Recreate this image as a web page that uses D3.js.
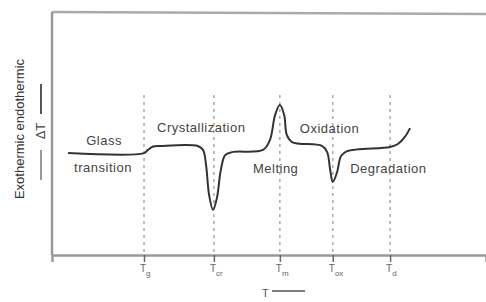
<!DOCTYPE html>
<html>
<head>
<meta charset="utf-8">
<script src="https://cdn.jsdelivr.net/npm/d3@7"></script>
<style>
  body { margin: 0; background: #fff; }
  svg { font-family: "Liberation Sans", Arial, sans-serif; }
</style>
</head>
<body>
<svg id="chart" width="486" height="302"></svg>
<script>
// DSC thermogram (arbitrary units)
var temps = [3.7, 21.2, 22.1, 23.3, 24.9, 33.6, 34.8, 35.5, 36.2, 37.1, 38.0, 38.9, 39.9, 41.5,
             48.6, 50.2, 51.4, 52.5, 53.5, 54.1, 55.3, 62.2, 63.4, 64.1, 64.7, 65.7, 66.6, 68.0,
             77.9, 79.7, 81.3, 82.5];
var heatFlow = [41.6, 41.6, 42.9, 44.3, 44.5, 44.5, 42.9, 36.7, 24.5, 18.4, 23.3, 34.7, 40.8, 42.0,
                42.9, 46.9, 57.1, 61.2, 57.1, 49.0, 46.1, 44.5, 42.0, 34.7, 29.8, 33.9, 40.4, 42.4,
                44.1, 45.3, 48.2, 51.8];

var markTemps = [21.2, 37.3, 52.5, 64.7, 77.9];
var markSubs = ["g", "cr", "m", "ox", "d"];

var labels = ["Glass", "transition", "Crystallization", "Melting", "Oxidation", "Degradation"];
var labelX = [12.0, 11.75, 24.2, 46.3, 57.1, 68.7];
var labelY = [44.9, 33.9, 50.2, 33.5, 49.8, 33.5];

var svg = d3.select("#chart");

var x = d3.scaleLinear().domain([0, 100]).range([52, 486]);
var y = d3.scaleLinear().domain([0, 100]).range([255, 10]);

// frame
svg.append("line")
    .attr("x1", x(0)).attr("x2", x(100))
    .attr("y1", y(99.2)).attr("y2", y(98.4))
    .attr("stroke", "#aaa").attr("stroke-width", 2.5);
svg.append("line")
    .attr("x1", x(0)).attr("x2", x(0))
    .attr("y1", y(99.2)).attr("y2", y(0))
    .attr("stroke", "#999").attr("stroke-width", 2.5);

var xAxis = svg.append("g")
    .attr("transform", "translate(0," + y(0) + ")")
    .call(d3.axisBottom(x).tickValues(markTemps).tickSize(7).tickFormat(""));
xAxis.select(".domain").attr("stroke", "#999").attr("stroke-width", 2.5);
xAxis.selectAll(".tick line").attr("stroke", "#666").attr("stroke-width", 1.5);

// dashed markers
svg.selectAll(".marker")
    .data(markTemps)
    .enter()
    .append("line")
    .attr("class", "marker")
    .attr("x1", function(d) { return x(d); })
    .attr("x2", function(d) { return x(d); })
    .attr("y1", y(65.3))
    .attr("y2", y(0))
    .attr("stroke", "#aaa")
    .attr("stroke-width", 1.5)
    .attr("stroke-dasharray", "3,4");

// tick labels T_sub
var tl = svg.selectAll(".tlab")
    .data(markTemps)
    .enter()
    .append("text")
    .attr("class", "tlab")
    .attr("x", function(d) { return x(d) - 4; })
    .attr("y", 272)
    .attr("font-size", 10)
    .attr("fill", "#666");
tl.append("tspan").text("T");
tl.append("tspan")
    .attr("dy", 4)
    .attr("font-size", 8)
    .text(function(d, i) { return markSubs[i]; });

// curve
var line = d3.line()
    .x(function(d) { return x(d[0]); })
    .y(function(d) { return y(d[1]); })
    .curve(d3.curveCatmullRom.alpha(0.5));

svg.append("path")
    .datum(d3.zip(temps, heatFlow))
    .attr("d", line)
    .attr("fill", "none")
    .attr("stroke", "#333")
    .attr("stroke-width", 2);

// annotations
svg.selectAll(".ann")
    .data(labels)
    .enter()
    .append("text")
    .attr("class", "ann")
    .attr("x", function(d, i) { return x(labelX[i]); })
    .attr("y", function(d, i) { return y(labelY[i]); })
    .attr("font-size", 13)
    .attr("letter-spacing", 0.5)
    .attr("fill", "#444")
    .attr("text-anchor", function(d, i) { return i < 2 ? "middle" : "start"; })
    .text(function(d) { return d; });

// axis titles
svg.append("text")
    .attr("transform", "translate(24,129) rotate(-90)")
    .attr("text-anchor", "middle")
    .attr("font-size", 13)
    .attr("fill", "#333")
    .text("Exothermic  endothermic");

svg.append("text")
    .attr("transform", "translate(45,131) rotate(-90)")
    .attr("text-anchor", "middle")
    .attr("font-size", 13)
    .attr("fill", "#444")
    .text("\u0394T");
svg.append("line")
    .attr("x1", 41).attr("x2", 41)
    .attr("y1", 84).attr("y2", 114)
    .attr("stroke", "#555").attr("stroke-width", 2);
svg.append("line")
    .attr("x1", 41).attr("x2", 41)
    .attr("y1", 150).attr("y2", 180)
    .attr("stroke", "#999").attr("stroke-width", 2);

svg.append("text")
    .attr("x", 262)
    .attr("y", 297)
    .attr("font-size", 11)
    .attr("fill", "#555")
    .text("T");
svg.append("line")
    .attr("x1", 272).attr("x2", 305)
    .attr("y1", 291).attr("y2", 291)
    .attr("stroke", "#555").attr("stroke-width", 1.5);
</script>
</body>
</html>
